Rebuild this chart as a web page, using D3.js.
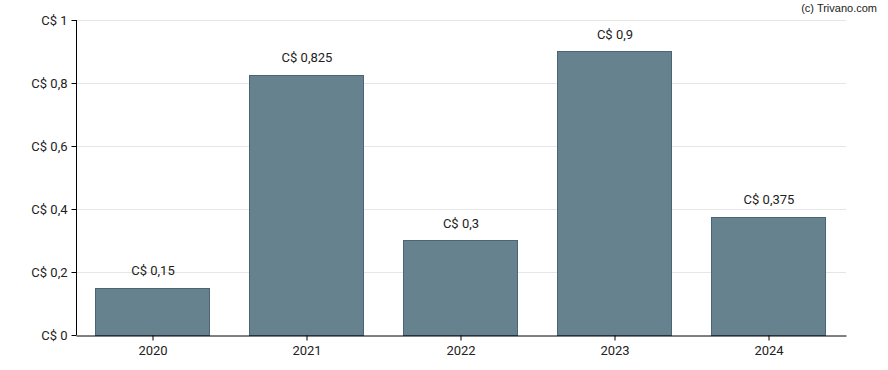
<!DOCTYPE html>
<html><head><meta charset="utf-8">
<script src="https://cdn.jsdelivr.net/npm/d3@7"></script>
<style>body{margin:0;background:#fff}svg{display:block}</style>
</head><body>
<svg id="c" width="888" height="370"></svg>
<script>
const categories = ["2020","2021","2022","2023","2024"];
const values = [0.15, 0.825, 0.3, 0.9, 0.375];
const yTicks = [0, 0.2, 0.4, 0.6, 0.8, 1];
const fmt = v => "C$ " + String(v).replace(".", ",");

const svg = d3.select("#c");
const m = {l:76, r:846, t:20, b:335};
const x = d3.scaleBand().domain(categories).range([m.l, m.r]).paddingInner(0.26).paddingOuter(0.13);
const y = d3.scaleLinear().domain([0,1]).range([m.b, m.t]);

svg.append("g").selectAll("line").data(yTicks.filter(d=>d>0)).join("line")
  .attr("x1", m.l).attr("x2", m.r).attr("y1", d=>y(d)+0.5).attr("y2", d=>y(d)+0.5)
  .attr("stroke", "#e6e6e6").attr("stroke-width", 1);

svg.append("g").selectAll("rect").data(values).join("rect")
  .attr("x", (d,i)=>Math.round(x(categories[i]))-0.5)
  .attr("y", d=>Math.round(y(d))+0.5)
  .attr("width", Math.round(x.bandwidth()))
  .attr("height", d=>Math.round(y(0))-Math.round(y(d)))
  .attr("fill", "#66828f").attr("stroke", "#4b6478").attr("stroke-width", 1);

svg.append("g").selectAll("text").data(values).join("text")
  .attr("x", (d,i)=>x(categories[i])+x.bandwidth()/2)
  .attr("y", d=>y(d)-13)
  .attr("text-anchor", "middle")
  .attr("font-family", "Roboto").attr("font-size", 13).attr("fill", "#222")
  .text(d=>fmt(d));

const ya = d3.axisLeft(y).tickValues(yTicks).tickSize(5).tickPadding(4).tickFormat(fmt);
const yg = svg.append("g").attr("transform", `translate(${m.l+0.5},0)`).call(ya);
const xa = d3.axisBottom(x).tickSize(5).tickPadding(5).tickSizeOuter(0);
const xg = svg.append("g").attr("transform", `translate(0,${m.b+0.5})`).call(xa);
[yg, xg].forEach(g=>{
  g.selectAll("text").attr("font-family","Roboto").attr("font-size",13).attr("fill","#222");
  g.selectAll("line,path").attr("stroke","#000");
});
yg.select(".domain").attr("d", `M0,${m.t}V${m.b}`);

svg.append("text").attr("x", 877).attr("y", 12).attr("text-anchor","end")
  .attr("font-family","Liberation Sans, Arial").attr("font-size", 11).attr("fill","#222")
  .text("(c) Trivano.com");
</script>
</body></html>
